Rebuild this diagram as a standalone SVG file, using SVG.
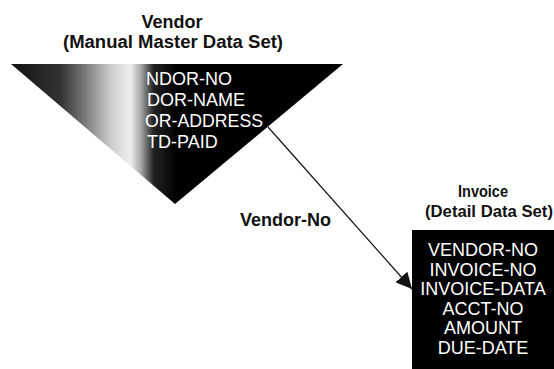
<svg xmlns="http://www.w3.org/2000/svg" width="554" height="369" viewBox="0 0 554 369">
<style>
.t{font-family:"Liberation Sans",Arial,sans-serif;font-weight:bold;fill:#111}
.w{font-family:"Liberation Sans",Arial,sans-serif;fill:#fff;font-size:18px}
</style>
<defs>
<linearGradient id="fade" gradientUnits="userSpaceOnUse" x1="11" y1="0" x2="343" y2="0">
<stop offset="0" stop-color="#111"/>
<stop offset="0.15" stop-color="#333"/>
<stop offset="0.22" stop-color="#777"/>
<stop offset="0.3" stop-color="#ccc"/>
<stop offset="0.36" stop-color="#eee"/>
<stop offset="0.39" stop-color="#aaa"/>
<stop offset="0.43" stop-color="#222"/>
<stop offset="0.5" stop-color="#000"/>
<stop offset="1" stop-color="#000"/>
</linearGradient>
<marker id="ah" viewBox="0 0 10 10" refX="10" refY="5" markerWidth="16" markerHeight="16" markerUnits="userSpaceOnUse" orient="auto">
<path d="M0,0 L10,5 L0,10 Z" fill="#111"/>
</marker>
</defs>
<g id="vendor">
<text class="t" x="172" y="28" font-size="18" text-anchor="middle">Vendor</text>
<text class="t" x="173" y="48" font-size="18" text-anchor="middle" textLength="220" lengthAdjust="spacingAndGlyphs">(Manual Master Data Set)</text>
<polygon points="11,64 343,64 175,204" fill="url(#fade)"/>
<text class="w" x="146" y="85">NDOR-NO</text>
<text class="w" x="147" y="106">DOR-NAME</text>
<text class="w" x="145" y="127" textLength="118" lengthAdjust="spacingAndGlyphs">OR-ADDRESS</text>
<text class="w" x="147" y="148">TD-PAID</text>
</g>
<g id="invoice">
<text class="t" x="483" y="197" font-size="16" text-anchor="middle" textLength="50" lengthAdjust="spacingAndGlyphs">Invoice</text>
<text class="t" x="489" y="217" font-size="17" text-anchor="middle" textLength="128" lengthAdjust="spacingAndGlyphs">(Detail Data Set)</text>
<rect x="412" y="230" width="142" height="139" fill="#000"/>
<g text-anchor="middle">
<text class="w" x="483" y="256">VENDOR-NO</text>
<text class="w" x="483" y="275.5">INVOICE-NO</text>
<text class="w" x="483" y="295">INVOICE-DATA</text>
<text class="w" x="483" y="314.5">ACCT-NO</text>
<text class="w" x="483" y="334">AMOUNT</text>
<text class="w" x="483" y="353.5">DUE-DATE</text>
</g>
</g>
<g id="connectors">
<line x1="268" y1="127" x2="412" y2="289" stroke="#111" stroke-width="1.2" marker-end="url(#ah)"/>
<text class="t" x="240" y="226" font-size="18">Vendor-No</text>
</g>
</svg>
